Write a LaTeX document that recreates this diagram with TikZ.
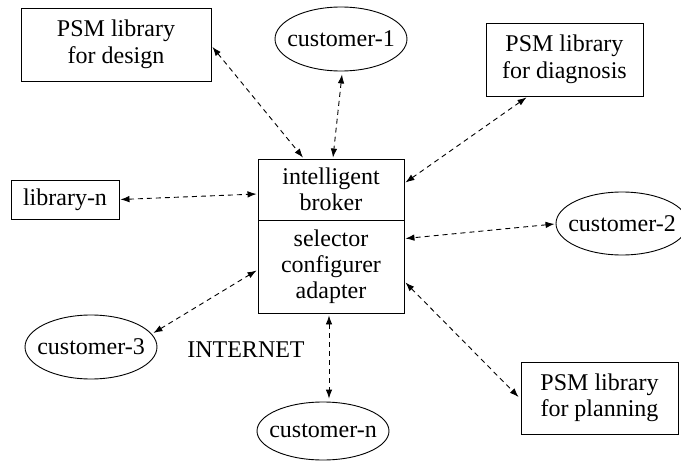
\documentclass[tikz,border=0pt]{standalone}
\usepackage{fontspec}
\setmainfont{Liberation Serif}
\newfontfamily\tms{Liberation Serif}
\usetikzlibrary{shapes.geometric,arrows.meta}
\begin{document}
\begin{tikzpicture}[x=1pt,y=-1pt,
  txt/.style={font=\tms\fontsize{24}{26.5}\selectfont, align=center, inner sep=0pt},
  box/.style={txt, draw, line width=0.9pt, rectangle},
  oval/.style={txt, draw, line width=0.9pt, ellipse},
  link/.style={dashed, dash pattern=on 5pt off 4pt, line width=0.9pt,
    {Latex[length=9pt,width=6.5pt]}-{Latex[length=9pt,width=6.5pt]}}]
\useasboundingbox (0,0) rectangle (681,466);
% nodes
\node[box, minimum width=190pt, minimum height=73pt] (design) at (116,44.5) {PSM library\\for design};
\node[oval, minimum width=132pt, minimum height=64pt] (c1) at (341,39) {\makebox[0pt]{customer-1}};
\node[box, minimum width=157pt, minimum height=73pt] (diag) at (564.5,59.5) {PSM library\\for diagnosis};
\node[box, minimum width=108pt, minimum height=39pt] (libn) at (65,199.5) {library-n};
\node[box, minimum width=146pt, minimum height=61pt] (broker) at (331,189.5) {intelligent\\broker};
\node[box, minimum width=146pt, minimum height=93pt, font=\tms\fontsize{24}{26}\selectfont] (sel) at (331,266.5) {selector\\configurer\\adapter};
\node[oval, minimum width=132pt, minimum height=63pt] (c2) at (622,223.5) {\makebox[0pt]{customer-2}};
\node[oval, minimum width=132pt, minimum height=64pt] (c3) at (91,347) {\makebox[0pt]{customer-3}};
\node[txt] (inet) at (246,350) {INTERNET};
\node[oval, minimum width=132pt, minimum height=58pt] (cn) at (323,431) {\makebox[0pt]{customer-n}};
\node[box, minimum width=157pt, minimum height=72pt] (plan) at (599.5,398) {PSM library\\for planning};
% connectors
\draw[link] ([shift={(1,2.5)}]design.east) -- ([shift={(-28,-1)}]broker.north);
\draw[link] ([shift={(1,3)}]c1.south) -- ([shift={(2,-1)}]broker.north);
\draw[link] ([shift={(-38,1)}]diag.south) -- ([shift={(1,-7)}]broker.east);
\draw[link] ([shift={(1,0)}]libn.east) -- ([shift={(-1,4.5)}]broker.west);
\draw[link] ([shift={(-1,0.5)}]c2.west) -- ([shift={(1,-28)}]sel.east);
\draw[link] ([shift={(-4,-14)}]c3.east) -- ([shift={(-1,4)}]sel.west);
\draw[link] ([shift={(-2,2)}]sel.south) -- ([shift={(6,-3)}]cn.north);
\draw[link] ([shift={(1,16)}]sel.east) -- ([shift={(-2,-1)}]plan.west);
\end{tikzpicture}
\end{document}
